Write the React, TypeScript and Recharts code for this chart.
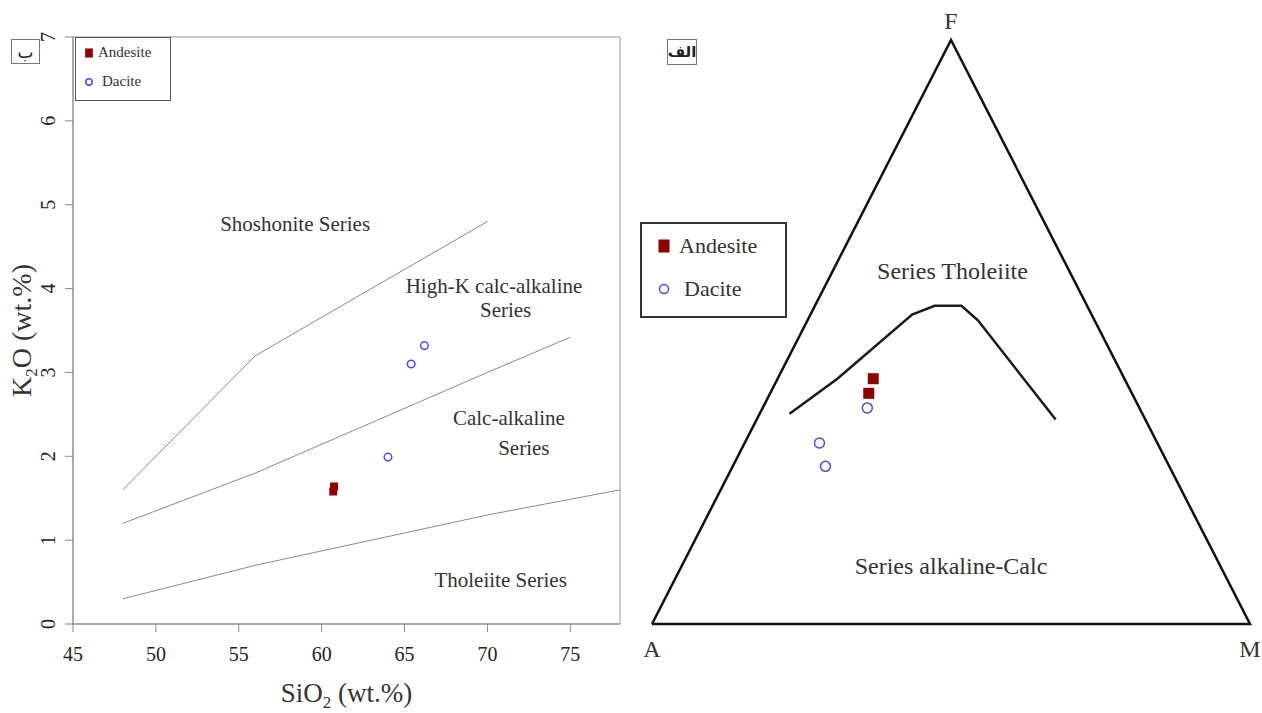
import { Legend, ReferenceArea, Scatter, ScatterChart, XAxis, YAxis } from "recharts";

const SERIF = '"Liberation Serif", "DejaVu Serif", serif';

// ---- K2O vs SiO2 (left panel) ----
const SIO2_TICKS = [45, 50, 55, 60, 65, 70, 75];
const K2O_TICKS = [0, 1, 2, 3, 4, 5, 6, 7];

const SHOSHONITE_LINE = [
  { x: 48, y: 1.6 },
  { x: 56, y: 3.2 },
  { x: 70, y: 4.8 },
];
const HIGHK_LINE = [
  { x: 48, y: 1.2 },
  { x: 56, y: 1.8 },
  { x: 63, y: 2.4 },
  { x: 70, y: 3.0 },
  { x: 75, y: 3.42 },
];
const CALC_LINE = [
  { x: 48, y: 0.3 },
  { x: 56, y: 0.7 },
  { x: 63, y: 1.0 },
  { x: 70, y: 1.3 },
  { x: 78, y: 1.6 },
];

const ANDESITE_K2O = [
  { x: 60.7, y: 1.58 },
  { x: 60.75, y: 1.64 },
];
const DACITE_K2O = [
  { x: 64.0, y: 1.99 },
  { x: 65.4, y: 3.1 },
  { x: 66.2, y: 3.32 },
];

const LEFT_LABELS = [
  { x: 58.4, y: 4.77, text: "Shoshonite Series" },
  { x: 70.4, y: 4.03, text: "High-K calc-alkaline" },
  { x: 71.1, y: 3.74, text: "Series" },
  { x: 71.3, y: 2.46, text: "Calc-alkaline" },
  { x: 72.2, y: 2.1, text: "Series" },
  { x: 70.8, y: 0.52, text: "Tholeiite Series" },
];

// ---- AFM ternary (right panel), values as [A, F, M] ----
const AFM_TRIANGLE = [
  [100, 0, 0],
  [0, 100, 0],
  [0, 0, 100],
  [100, 0, 0],
];
const AFM_CURVE = [
  [59, 36, 5],
  [48, 42, 10],
  [30, 53, 17],
  [25.5, 54.5, 20],
  [21, 54.5, 24.5],
  [19.5, 52, 28.5],
  [15, 35, 50],
];
const ANDESITE_AFM = [
  [42, 42, 16],
  [44, 39.5, 16.5],
];
const DACITE_AFM = [
  [45.5, 37, 17.5],
  [56.5, 31, 12.5],
  [57.5, 27, 15.5],
];
const VERTEX_LABELS = [
  { afm: [0, 100, 0], text: "F", dy: -19 },
  { afm: [100, 0, 0], text: "A", dy: 25 },
  { afm: [0, 0, 100], text: "M", dy: 25 },
];
const AFM_LABELS = [
  { afm: [19.5, 60.5, 20], text: "Series Tholeiite" },
  { afm: [45, 10, 45], text: "Series alkaline-Calc" },
];

const toXY = (afm: number[]) => ({ x: afm[2] + afm[1] / 2, y: afm[1] });

const ANDESITE_COLOR = "#8b0000";
const DACITE_COLOR = "#4b4be0";

const noShape = () => <g />;

function YTick(props: any) {
  const { x, y, payload } = props;
  return (
    <text
      transform={`translate(${x - 8},${y}) rotate(-90)`}
      textAnchor="middle"
      fontSize={20}
      fontFamily={SERIF}
      fill="#222"
    >
      {payload.value}
    </text>
  );
}

function XTick(props: any) {
  const { x, y, payload } = props;
  return (
    <text x={x} y={y + 27} textAnchor="middle" fontSize={20} fontFamily={SERIF} fill="#222">
      {payload.value}
    </text>
  );
}

function XLabel(props: any) {
  const { viewBox } = props;
  const cx = viewBox.x + viewBox.width / 2;
  return (
    <text x={cx} y={viewBox.y + 78} textAnchor="middle" fontSize={27} fontFamily={SERIF} fill="#333">
      SiO
      <tspan fontSize={17} dy={6}>2</tspan>
      <tspan dy={-6}> (wt.%)</tspan>
    </text>
  );
}

function YLabel(props: any) {
  const { viewBox } = props;
  const cy = viewBox.y + viewBox.height / 2;
  return (
    <text
      transform={`translate(31,${cy}) rotate(-90)`}
      textAnchor="middle"
      fontSize={28}
      fontFamily={SERIF}
      fill="#333"
    >
      K
      <tspan fontSize={17} dy={6}>2</tspan>
      <tspan dy={-6}>O (wt.%)</tspan>
    </text>
  );
}

function Marker({ name, size }: { name: string; size: number }) {
  return (
    <svg width={size * 2} height={size * 2} style={{ display: "block" }}>
      {name === "Andesite" ? (
        <rect x={size * 0.45} y={size * 0.35} width={size * 1.1} height={size * 1.3} fill={ANDESITE_COLOR} />
      ) : (
        <circle cx={size} cy={size} r={size * 0.45} fill="none" stroke={DACITE_COLOR} strokeWidth={1.5} />
      )}
    </svg>
  );
}

function makeLegend(big: boolean) {
  return (props: any) => (
    <div
      style={{
        boxSizing: "border-box",
        width: big ? 147 : 96,
        height: big ? 96 : 64,
        border: big ? "2px solid #333" : "1px solid #555",
        background: "#fff",
        fontFamily: SERIF,
        fontSize: big ? 22 : 15,
        color: "#333",
        padding: big ? "0 0 0 12px" : "0 0 0 6px",
      }}
    >
      {(props.payload || [])
        .filter((p: any) => p.type !== "none" && (p.value === "Andesite" || p.value === "Dacite"))
        .map((p: any) => (
          <div
            key={p.value}
            style={{
              display: "flex",
              alignItems: "center",
              height: big ? 43 : 29,
              gap: p.value === "Dacite" ? (big ? 10 : 6) : big ? 5 : 2,
            }}
          >
            <Marker name={p.value} size={big ? 10 : 7} />
            <span>{p.value}</span>
          </div>
        ))}
    </div>
  );
}

function KChart() {
  return (
    <ScatterChart width={640} height={713} margin={{ top: 37, right: 20, bottom: 39, left: 23 }}>
      <XAxis
        type="number"
        dataKey="x"
        domain={[45, 78]}
        ticks={SIO2_TICKS}
        allowDataOverflow
        height={50}
        stroke="#888"
        tickSize={8}
        tick={<XTick />}
        label={<XLabel />}
      />
      <YAxis
        type="number"
        dataKey="y"
        domain={[0, 7]}
        ticks={K2O_TICKS}
        allowDataOverflow
        width={50}
        stroke="#888"
        tickSize={8}
        tick={<YTick />}
        label={<YLabel />}
      />
      <ReferenceArea x1={45} x2={78} y1={0} y2={7} fill="none" stroke="#999" strokeWidth={1} />
      <Legend
        layout="vertical"
        align="center"
        verticalAlign="middle"
        content={makeLegend(false)}
        wrapperStyle={{ left: 75, top: 37, width: 96, height: 64 }}
      />
      <Scatter data={SHOSHONITE_LINE} line={{ stroke: "#8a8a8a", strokeWidth: 1 }} lineType="joint" shape={noShape} legendType="none" isAnimationActive={false} />
      <Scatter data={HIGHK_LINE} line={{ stroke: "#8a8a8a", strokeWidth: 1 }} lineType="joint" shape={noShape} legendType="none" isAnimationActive={false} />
      <Scatter data={CALC_LINE} line={{ stroke: "#8a8a8a", strokeWidth: 1 }} lineType="joint" shape={noShape} legendType="none" isAnimationActive={false} />
      <Scatter
        data={LEFT_LABELS}
        legendType="none"
        isAnimationActive={false}
        shape={(p: any) => (
          <text x={p.cx} y={p.cy} textAnchor="middle" dominantBaseline="central" fontSize={21} fontFamily={SERIF} fill="#333">
            {p.payload.text}
          </text>
        )}
      />
      <Scatter
        name="Andesite"
        data={ANDESITE_K2O}
        fill={ANDESITE_COLOR}
        isAnimationActive={false}
        shape={(p: any) => <rect x={p.cx - 4} y={p.cy - 4} width={8} height={8} fill={ANDESITE_COLOR} />}
      />
      <Scatter
        name="Dacite"
        data={DACITE_K2O}
        fill={DACITE_COLOR}
        isAnimationActive={false}
        shape={(p: any) => <circle cx={p.cx} cy={p.cy} r={3.8} fill="none" stroke={DACITE_COLOR} strokeWidth={1.5} />}
      />
    </ScatterChart>
  );
}

function AfmChart() {
  const triangle = AFM_TRIANGLE.map(toXY);
  const curve = AFM_CURVE.map(toXY);
  const andesite = ANDESITE_AFM.map(toXY);
  const dacite = DACITE_AFM.map(toXY);
  const vertices = VERTEX_LABELS.map((v) => ({ ...toXY(v.afm), text: v.text, dy: v.dy }));
  const labels = AFM_LABELS.map((v) => ({ ...toXY(v.afm), text: v.text }));
  return (
    <ScatterChart width={622} height={713} margin={{ top: 40, right: 12, bottom: 89, left: 12 }}>
      <XAxis type="number" dataKey="x" domain={[0, 100]} hide />
      <YAxis type="number" dataKey="y" domain={[0, 100]} hide />
      <Legend
        layout="vertical"
        align="center"
        verticalAlign="middle"
        content={makeLegend(true)}
        wrapperStyle={{ left: 0, top: 222, width: 147, height: 96 }}
      />
      <Scatter data={triangle} line={{ stroke: "#111", strokeWidth: 2.5 }} lineType="joint" shape={noShape} legendType="none" isAnimationActive={false} />
      <Scatter data={curve} line={{ stroke: "#1a1a1a", strokeWidth: 2.5 }} lineType="joint" shape={noShape} legendType="none" isAnimationActive={false} />
      <Scatter
        data={vertices}
        legendType="none"
        isAnimationActive={false}
        shape={(p: any) => (
          <text x={p.cx} y={p.cy + p.payload.dy} textAnchor="middle" dominantBaseline="central" fontSize={24} fontFamily={SERIF} fill="#333">
            {p.payload.text}
          </text>
        )}
      />
      <Scatter
        data={labels}
        legendType="none"
        isAnimationActive={false}
        shape={(p: any) => (
          <text x={p.cx} y={p.cy} textAnchor="middle" dominantBaseline="central" fontSize={24} fontFamily={SERIF} fill="#333">
            {p.payload.text}
          </text>
        )}
      />
      <Scatter
        name="Andesite"
        data={andesite}
        fill={ANDESITE_COLOR}
        isAnimationActive={false}
        shape={(p: any) => <rect x={p.cx - 5.5} y={p.cy - 5.5} width={11} height={11} fill={ANDESITE_COLOR} />}
      />
      <Scatter
        name="Dacite"
        data={dacite}
        fill={DACITE_COLOR}
        isAnimationActive={false}
        shape={(p: any) => <circle cx={p.cx} cy={p.cy} r={5} fill="none" stroke={DACITE_COLOR} strokeWidth={1.5} />}
      />
    </ScatterChart>
  );
}

export default function App() {
  const tag = {
    position: "absolute" as const,
    boxSizing: "border-box" as const,
    border: "1px solid #777",
    background: "#fff",
    fontFamily: '"DejaVu Sans", sans-serif',
    display: "flex",
    alignItems: "center",
    justifyContent: "center",
    color: "#222",
  };
  return (
    <div style={{ position: "absolute", left: 0, top: 0, width: 1262, height: 713, background: "#fff", overflow: "hidden" }}>
      <div style={{ position: "absolute", left: 0, top: 0 }}>
        <KChart />
      </div>
      <div style={{ position: "absolute", left: 640, top: 0 }}>
        <AfmChart />
      </div>
      <div style={{ ...tag, left: 11, top: 39, width: 29, height: 25, fontSize: 17 }}>ب</div>
      <div style={{ ...tag, left: 667, top: 39, width: 30, height: 26, fontSize: 15, fontWeight: "bold" }}>الف</div>
    </div>
  );
}
